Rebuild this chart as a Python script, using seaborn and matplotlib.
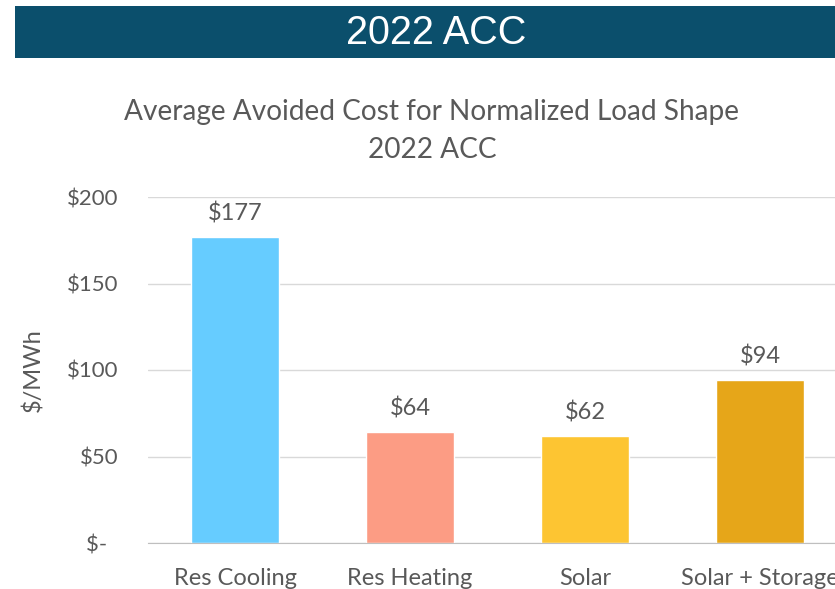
import pandas as pd
import seaborn as sns
import matplotlib.pyplot as plt
from matplotlib.patches import Rectangle

# data
categories = ["Res Cooling", "Res Heating", "Solar", "Solar + Storage"]
avoided_cost = [177, 64, 62, 94]
bar_colors = ["#66CCFF", "#FC9C84", "#FDC532", "#E6A619"]
y_ticks = [0, 50, 100, 150, 200]
y_tick_labels = ["$-  ", "$50", "$100", "$150", "$200"]

df = pd.DataFrame({"category": categories, "cost": avoided_cost})

sns.set_style("white")
plt.rcParams['font.family'] = ['Lato', 'DejaVu Sans']
text_color = "#595959"

fig = plt.figure(figsize=(8.35, 5.89), dpi=100)

# banner at the top
fig.patches.append(Rectangle((15 / 835, 1 - 58 / 589), 1, 52 / 589,
                             transform=fig.transFigure, facecolor="#0B4F6C",
                             edgecolor="none", zorder=0))
fig.text(436 / 835, 1 - 33 / 589, "2022 ACC", color="white", fontsize=28.5,
         family="Liberation Sans", ha="center", va="center")

# axes runs past the right edge, like the original screenshot
ax = fig.add_axes([147.5 / 835, 46 / 589, 700 / 835, 346 / 589])
sns.barplot(data=df, x="category", y="cost", hue="category",
            palette=bar_colors, width=0.5, legend=False, ax=ax, saturation=1)

ax.set_ylim(0, 200)
ax.set_xlim(-0.5, 3.5)
ax.set_yticks(y_ticks)
ax.set_yticklabels(y_tick_labels)
ax.yaxis.grid(True, color="#D9D9D9", linewidth=1)
ax.set_axisbelow(True)
for s in ["top", "right", "left"]:
    ax.spines[s].set_visible(False)
ax.spines["bottom"].set_color("#BFBFBF")
ax.tick_params(axis="y", length=0, pad=21, labelsize=16, labelcolor=text_color)
ax.tick_params(axis="x", length=0, pad=18, labelsize=17, labelcolor=text_color)
ax.set_xlabel("")
ax.set_ylabel("$/MWh", fontsize=17, color=text_color)
ax.yaxis.set_label_coords((44 - 147.5) / 700, 0.5)

# value labels
for i, v in enumerate(avoided_cost):
    ax.annotate(f"${v}", (i, v), xytext=(0, 9), textcoords="offset points",
                ha="center", va="bottom", fontsize=17, color=text_color)

fig.text(432 / 835, 1 - 112 / 589, "Average Avoided Cost for Normalized Load Shape",
         fontsize=20.2, color=text_color, ha="center", va="center")
fig.text(432 / 835, 1 - 150 / 589, "2022 ACC",
         fontsize=20.2, color=text_color, ha="center", va="center")

fig.savefig("out.png", dpi=100)
